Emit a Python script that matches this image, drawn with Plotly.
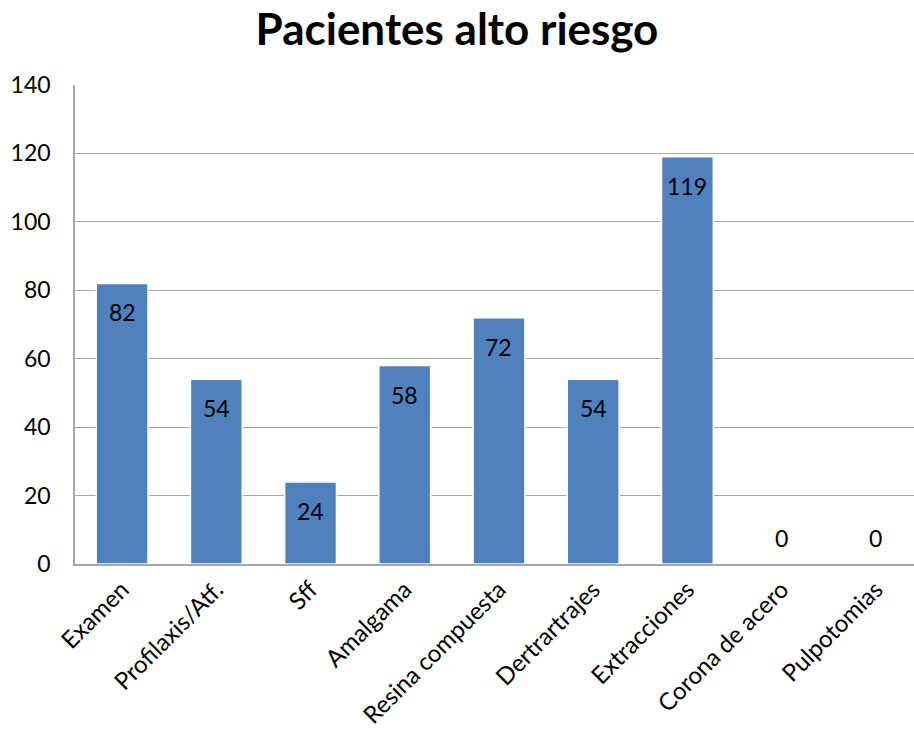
import plotly.graph_objects as go

categories = ["Examen", "Profilaxis/Atf.", "Sff", "Amalgama", "Resina compuesta",
              "Dertrartrajes", "Extracciones", "Corona de acero", "Pulpotomias"]
values = [82, 54, 24, 58, 72, 54, 119, 0, 0]
y_ticks = [0, 20, 40, 60, 80, 100, 120, 140]

FONT = "Lato, Calibri, 'Open Sans', sans-serif"

fig = go.Figure()
fig.add_trace(go.Bar(
    x=categories, y=values,
    marker=dict(color="#4F81BD", line=dict(color="white", width=1.5)),
    hoverinfo="x+y",
))

for c, v in zip(categories, values):
    fig.add_annotation(x=c, y=v, text=str(v), showarrow=False,
                       yanchor="middle", yshift=(-29 if v > 0 else 26),
                       font=dict(family=FONT, size=23, color="black"))

fig.update_layout(
    width=914, height=740,
    margin=dict(l=75, r=0, t=85, b=176),
    paper_bgcolor="white", plot_bgcolor="white",
    bargap=0.45,
    showlegend=False,
    title=dict(text="<b>Pacientes alto riesgo</b>", x=0.5, xanchor="center",
               y=0.96, yanchor="middle",
               font=dict(family=FONT, size=44, color="black")),
    font=dict(family=FONT, size=23, color="black"),
)
fig.update_yaxes(range=[0, 140], tickvals=y_ticks, showgrid=True,
                 gridcolor="#A6A6A6", gridwidth=1, zeroline=False,
                 showline=True, linecolor="#A6A6A6", linewidth=1.5,
                 ticks="", ticklabelstandoff=18,
                 tickfont=dict(family=FONT, size=23, color="black"))
fig.update_xaxes(range=[-0.5, 8.405], tickangle=-45, showline=True,
                 linecolor="#A6A6A6", linewidth=2,
                 ticks="", showgrid=False,
                 tickfont=dict(family=FONT, size=24, color="black"))

fig.write_html("out.html")
